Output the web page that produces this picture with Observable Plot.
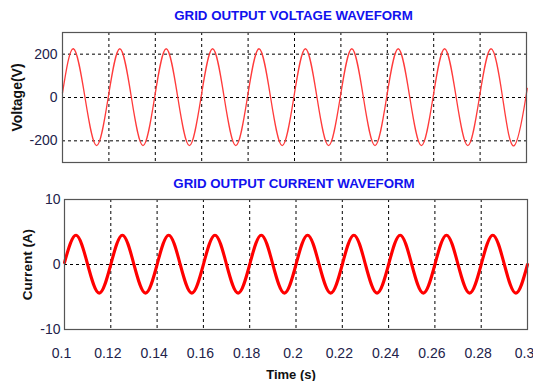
<!DOCTYPE html>
<html><head><meta charset="utf-8">
<script src="https://cdn.jsdelivr.net/npm/d3@7"></script>
<script src="https://cdn.jsdelivr.net/npm/@observablehq/plot@0.6"></script>
<style>
body{margin:0;background:#fff;}
#wrap{position:relative;width:533px;height:381px;overflow:hidden;}
#top,#bot{position:absolute;left:0;}
#top{top:0;} #bot{top:170px;}
svg{display:block;}
</style></head><body>
<div id="wrap"><div id="top"></div><div id="bot"></div></div>
<script>
// Voltage waveform key points (s, V)
const voltTime = [0.1, 0.1047, 0.1097, 0.1147, 0.1197,
  0.1247, 0.1297, 0.1347, 0.1397,
  0.1447, 0.1497, 0.1547, 0.1597,
  0.1647, 0.1697, 0.1747, 0.1797,
  0.1847, 0.1897, 0.1947, 0.1997,
  0.2047, 0.2097, 0.2147, 0.2197,
  0.2247, 0.2297, 0.2347, 0.2397,
  0.2447, 0.2497, 0.2547, 0.2597,
  0.2647, 0.2697, 0.2747, 0.2797,
  0.2847, 0.2897, 0.2947, 0.2997, 0.3];
const voltValue = [21, 225, 0, -222, 0,
  225, 0, -222, 0,
  225, 0, -222, 0,
  225, 0, -222, 0,
  225, 0, -222, 0,
  225, 0, -222, 0,
  225, 0, -222, 0,
  225, 0, -222, 0,
  225, 0, -222, 0,
  225, 0, -222, 0, 21];
// Current waveform key points (s, A)
const currTime = [0.1, 0.105, 0.11, 0.115, 0.12,
  0.125, 0.13, 0.135, 0.14,
  0.145, 0.15, 0.155, 0.16,
  0.165, 0.17, 0.175, 0.18,
  0.185, 0.19, 0.195, 0.2,
  0.205, 0.21, 0.215, 0.22,
  0.225, 0.23, 0.235, 0.24,
  0.245, 0.25, 0.255, 0.26,
  0.265, 0.27, 0.275, 0.28,
  0.285, 0.29, 0.295, 0.3];
const currValue = [0.3, 4.5, 0, -4.4, 0,
  4.5, 0, -4.4, 0,
  4.5, 0, -4.4, 0,
  4.5, 0, -4.4, 0,
  4.5, 0, -4.4, 0,
  4.5, 0, -4.4, 0,
  4.5, 0, -4.4, 0,
  4.5, 0, -4.4, 0,
  4.5, 0, -4.4, 0,
  4.5, 0, -4.4, 0];
const xTicks = [0.1, 0.12, 0.14, 0.16, 0.18, 0.2, 0.22, 0.24, 0.26, 0.28, 0.3];
const xTickLabels = ["0.1", "0.12", "0.14", "0.16", "0.18", "0.2", "0.22", "0.24", "0.26", "0.28", "0.3"];
const xGrid = [0.12, 0.14, 0.16, 0.18, 0.2, 0.22, 0.24, 0.26, 0.28];
const voltTicks = [-200, 0, 200];
const voltTickLabels = ["-200", "0", "200"];
const currTicks = [-10, 0, 10];
const currTickLabels = ["-10", "0", "10"];
const currGrid = [0];

const voltData = voltTime.map((t, i) => ({t, v: voltValue[i]}));
const currData = currTime.map((t, i) => ({t, v: currValue[i]}));

const FONT = "Liberation Sans, Arial, Helvetica, sans-serif";
const TICKCOL = "#22224a";
const grid = {stroke: "#000", strokeOpacity: 1, strokeWidth: 1, strokeDasharray: "3,3"};

const topPlot = Plot.plot({
  width: 533, height: 170,
  marginLeft: 62, marginRight: 7, marginTop: 32, marginBottom: 8,
  style: {fontFamily: FONT, fontSize: "14px", color: TICKCOL, background: "#fff", overflow: "visible"},
  x: {domain: [0.1, 0.3], axis: null},
  y: {domain: [-300, 300]},
  marks: [
    Plot.ruleX(xGrid, grid),
    Plot.ruleY(voltTicks, grid),
    Plot.axisY(voltTicks, {tickSize: 0, tickPadding: 5, label: null, fill: TICKCOL, fontSize: 14,
      tickFormat: (d, i) => voltTickLabels[i]}),
    Plot.line(voltData, {x: "t", y: "v", stroke: "#ff3b3b", strokeWidth: 1.3, curve: "natural"}),
    Plot.frame({stroke: "#555", strokeWidth: 1.2}),
    Plot.text(["GRID OUTPUT VOLTAGE WAVEFORM"], {frameAnchor: "top", lineAnchor: "bottom", dy: -13, dx: -1,
      fill: "#1111ee", fontWeight: "bold", fontSize: 13.3, fontFamily: FONT}),
    Plot.text(["Voltage(V)"], {frameAnchor: "left", textAnchor: "middle", rotate: -90, dx: -45, fill: "#111",
      fontWeight: "bold", fontSize: 14, fontFamily: FONT})
  ]
});
document.getElementById("top").append(topPlot);

const botPlot = Plot.plot({
  width: 533, height: 211,
  marginLeft: 64, marginRight: 6, marginTop: 29, marginBottom: 52,
  style: {fontFamily: FONT, fontSize: "14px", color: TICKCOL, background: "#fff", overflow: "visible"},
  x: {domain: [0.1, 0.3]},
  y: {domain: [-10, 10]},
  marks: [
    Plot.ruleX(xGrid, grid),
    Plot.ruleY(currGrid, grid),
    Plot.axisY(currTicks, {tickSize: 0, tickPadding: 4, label: null, fill: TICKCOL, fontSize: 14,
      tickFormat: (d, i) => currTickLabels[i]}),
    Plot.axisX(xTicks, {tickSize: 0, tickPadding: 19, label: null, fill: TICKCOL, fontSize: 14, dx: -3,
      tickFormat: (d, i) => xTickLabels[i]}),
    Plot.line(currData, {x: "t", y: "v", stroke: "#ff0000", strokeWidth: 3.1, curve: "natural"}),
    Plot.frame({stroke: "#555", strokeWidth: 1.2}),
    Plot.text(["GRID OUTPUT CURRENT WAVEFORM"], {frameAnchor: "top", lineAnchor: "bottom", dy: -12, dx: -2,
      fill: "#1111ee", fontWeight: "bold", fontSize: 13.3, fontFamily: FONT}),
    Plot.text(["Current (A)"], {frameAnchor: "left", textAnchor: "middle", rotate: -90, dx: -37, fill: "#111",
      fontWeight: "bold", fontSize: 13.5, fontFamily: FONT}),
    Plot.text(["Time (s)"], {frameAnchor: "bottom", lineAnchor: "bottom", dy: 49, dx: -5, fill: "#111",
      fontWeight: "bold", fontSize: 13, fontFamily: FONT})
  ]
});
document.getElementById("bot").append(botPlot);
</script></body></html>
